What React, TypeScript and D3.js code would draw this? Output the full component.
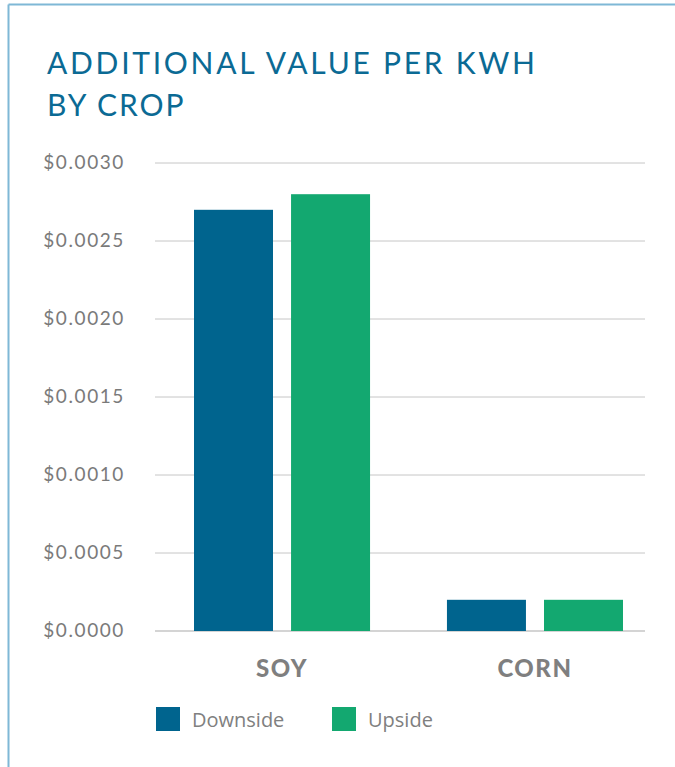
import React from 'react';
import * as d3 from 'd3';

const crops = ['SOY', 'CORN'];
const seriesNames = ['Downside', 'Upside'];
const downside = [0.0027, 0.0002];
const upside = [0.0028, 0.0002];
const yTicks = [0, 0.0005, 0.001, 0.0015, 0.002, 0.0025, 0.003];
const titleLines = ['ADDITIONAL VALUE PER KWH', 'BY CROP'];

const colors = ['#00648e', '#13a870'];

const App = () => {
  const width = 675;
  const height = 767;

  const y = d3.scaleLinear().domain([0, 0.003]).range([631, 163]);
  const x0 = d3.scaleBand().domain(crops).range([194, 623]).paddingInner(0.304).paddingOuter(0);
  const x1 = d3.scaleBand().domain(seriesNames).range([0, x0.bandwidth()]).paddingInner(0.186).paddingOuter(0);

  const values = [downside, upside];
  const fmt = (v: number) => '$' + d3.format('.4f')(v);

  return (
    <svg width={width} height={height} style={{ position: 'absolute', left: 0, top: 0 }}>
      {/* frame */}
      <line x1={8.5} y1={4.5} x2={width} y2={4.5} stroke="#7fb8d6" strokeWidth={2} />
      <line x1={8.5} y1={4.5} x2={8.5} y2={height} stroke="#7fb8d6" strokeWidth={2} />

      {/* title */}
      {titleLines.map((t, i) => (
        <text
          key={t}
          x={47}
          y={74 + i * 42}
          fill="#0b6a94"
          fontFamily="Lato, 'Open Sans', sans-serif"
          fontSize={30}
          style={{ letterSpacing: '2px' }}
          textLength={i === 0 ? 490 : undefined}
          lengthAdjust="spacing"
        >
          {t}
        </text>
      ))}

      {/* grid + y labels */}
      {yTicks.map(t => (
        <g key={t}>
          <line x1={155} x2={645} y1={y(t)} y2={y(t)} stroke="#c6c6c6" strokeWidth={t === 0 ? 1.5 : 1} />
          <text
            x={125}
            y={y(t) + 6}
            textAnchor="end"
            fill="#7a7a7a"
            fontFamily="Lato, 'Open Sans', sans-serif"
            fontSize={19}
            style={{ letterSpacing: '1.6px' }}
          >
            {fmt(t)}
          </text>
        </g>
      ))}

      {/* bars */}
      {crops.map((c, ci) => (
        <g key={c} transform={`translate(${x0(c)},0)`}>
          {seriesNames.map((s, si) => (
            <rect
              key={s}
              x={x1(s)}
              y={y(values[si][ci])}
              width={x1.bandwidth()}
              height={y(0) - y(values[si][ci])}
              fill={colors[si]}
            />
          ))}
        </g>
      ))}

      {/* category labels */}
      {crops.map(c => (
        <text
          key={c}
          x={(x0(c) ?? 0) + x0.bandwidth() / 2}
          y={677}
          textAnchor="middle"
          fill="#7f7f7f"
          fontFamily="Lato, 'Open Sans', sans-serif"
          fontWeight={900}
          fontSize={24}
          style={{ letterSpacing: '1.5px' }}
        >
          {c}
        </text>
      ))}

      {/* legend */}
      {seriesNames.map((s, i) => {
        const lx = i === 0 ? 156 : 332;
        return (
          <g key={s}>
            <rect x={lx} y={707} width={24} height={24} fill={colors[i]} />
            <text
              x={lx + 36}
              y={727}
              fill="#808080"
              fontFamily="'Open Sans', sans-serif"
              fontSize={20}
            >
              {s}
            </text>
          </g>
        );
      })}
    </svg>
  );
};

export default App;
